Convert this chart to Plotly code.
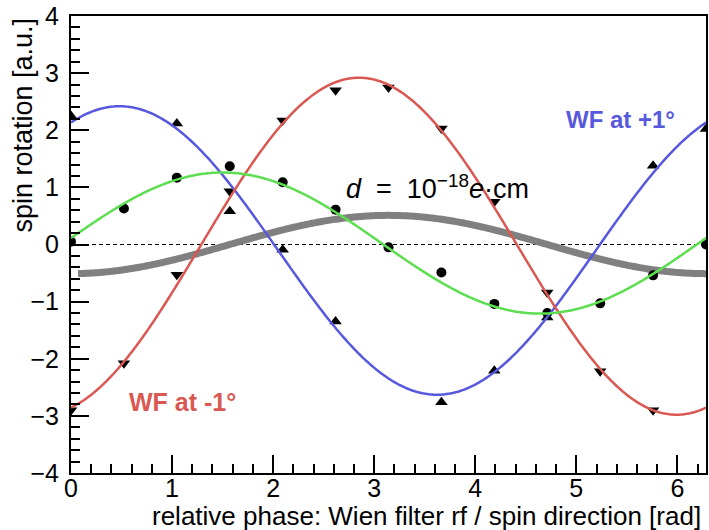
import numpy as np
import plotly.graph_objects as go

# Measured data points (phase in units of pi/6)
phase_blue = [0, 2, 3, 4, 5, 7, 8, 9, 11, 12]
rot_blue = [2.25, 2.12, 0.58, -0.09, -1.35, -2.76, -2.21, -1.28, 1.38, 2.02]

phase_red = [0, 1, 2, 3, 4, 5, 6, 7, 8, 9, 10, 11]
rot_red = [-2.90, -2.08, -0.53, 0.93, 2.17, 2.70, 2.75, 2.03, 0.75, -0.84, -2.22, -2.90]

phase_green = [0, 1, 2, 3, 4, 5, 6, 7, 8, 9, 10, 11, 12]
rot_green = [0.05, 0.63, 1.17, 1.37, 1.09, 0.61, -0.05, -0.49, -1.04, -1.20, -1.03, -0.54, 0.0]

# Fit results: offset, amplitude, phase of maximum
fit_blue = (-0.105, 2.525, 0.48)
fit_red = (-0.03, 2.95, 2.85)
fit_green = (0.025, 1.235, 1.50)
edm_amplitude = 0.51  # prediction for d = 1e-18 e cm

x_ticks = [0, 1, 2, 3, 4, 5, 6]
y_ticks = [-4, -3, -2, -1, 0, 1, 2, 3, 4]

BLUE = "rgb(88,88,222)"
RED = "rgb(218,88,82)"
GREEN = "rgb(92,222,80)"
GRAY = "rgb(128,128,128)"

TWO_PI = 2 * np.pi
xs = np.linspace(0, TWO_PI, 400)
xg = np.linspace(0.07, TWO_PI, 400)


def fitcurve(p, x):
    c, a, ph = p
    return c + a * np.cos(x - ph)


fig = go.Figure()

# zero line
fig.add_trace(go.Scatter(x=[0, TWO_PI], y=[0, 0], mode="lines",
                         line=dict(color="black", width=1.2, dash="4px,3px"),
                         hoverinfo="skip"))

# EDM prediction
fig.add_trace(go.Scatter(x=xg, y=-edm_amplitude * np.cos(xg), mode="lines",
                         line=dict(color=GRAY, width=7, simplify=False)))

# data points
def px(ph):
    return [p * np.pi / 6 for p in ph]

fig.add_trace(go.Scatter(x=px(phase_green), y=rot_green, mode="markers",
                         marker=dict(symbol="circle", size=10, color="black")))
fig.add_trace(go.Scatter(x=px(phase_blue), y=rot_blue, mode="markers",
                         marker=dict(symbol="triangle-up", size=11, color="black")))
fig.add_trace(go.Scatter(x=px(phase_red), y=rot_red, mode="markers",
                         marker=dict(symbol="triangle-down", size=11, color="black")))

# fits
fig.add_trace(go.Scatter(x=xs, y=fitcurve(fit_blue, xs), mode="lines",
                         line=dict(color=BLUE, width=2.5, simplify=False)))
fig.add_trace(go.Scatter(x=xs, y=fitcurve(fit_red, xs), mode="lines",
                         line=dict(color=RED, width=2.5, simplify=False)))
fig.add_trace(go.Scatter(x=xs, y=fitcurve(fit_green, xs), mode="lines",
                         line=dict(color=GREEN, width=2.5, simplify=False)))

FONT = "Liberation Sans, Arial, sans-serif"

fig.update_layout(
    width=709, height=530,
    margin=dict(l=71, r=1, t=16, b=57),
    paper_bgcolor="white", plot_bgcolor="white",
    showlegend=False,
    font=dict(family=FONT, size=25, color="black"),
    xaxis=dict(range=[0, TWO_PI], tickvals=x_ticks, ticks="inside", ticklen=18,
               tickwidth=1.5, tickcolor="black", showline=True, linewidth=2,
               linecolor="black", mirror=True, showgrid=False, zeroline=False,
               ticklabelstandoff=-8,
               minor=dict(dtick=0.2, ticks="inside", ticklen=9, tickwidth=1.5,
                          tickcolor="black", showgrid=False)),
    yaxis=dict(range=[-4, 4], tickvals=y_ticks, ticks="inside", ticklen=18,
               tickwidth=1.5, tickcolor="black", showline=True, linewidth=2,
               linecolor="black", mirror=True, showgrid=False, zeroline=False,
               ticklabelstandoff=5,
               minor=dict(dtick=0.2, ticks="inside", ticklen=9, tickwidth=1.5,
                          tickcolor="black", showgrid=False)),
)

annotations = [
    dict(text="spin rotation [a.u.]", xref="paper", yref="paper",
         x=-0.077, y=1.0, xanchor="center", yanchor="top", textangle=-90,
         showarrow=False, font=dict(size=27)),
    dict(text="relative phase: Wien filter rf / spin direction [rad]",
         xref="paper", yref="paper", x=0.995, y=-0.094, xanchor="right",
         yanchor="middle", showarrow=False, font=dict(size=26)),
    dict(text="<b>WF at +1°</b>", x=5.435, y=2.19, xref="x", yref="y",
         showarrow=False, font=dict(size=24, color=BLUE)),
    dict(text="<b>WF at -1°</b>", x=1.106, y=-2.75, xref="x", yref="y",
         showarrow=False, font=dict(size=25, color=RED)),
    dict(text="<i>d</i>&nbsp;&nbsp;=&nbsp;&nbsp;10<sup>−18</sup><i>e</i>·cm",
         x=2.705, y=1.0, xref="x", yref="y", xanchor="left", showarrow=False,
         font=dict(size=27, color="black")),
]
fig.update_layout(annotations=annotations)

fig.write_html("out.html", config={"displayModeBar": False},
               post_script="document.body.style.margin='0';document.body.style.overflow='hidden';")
